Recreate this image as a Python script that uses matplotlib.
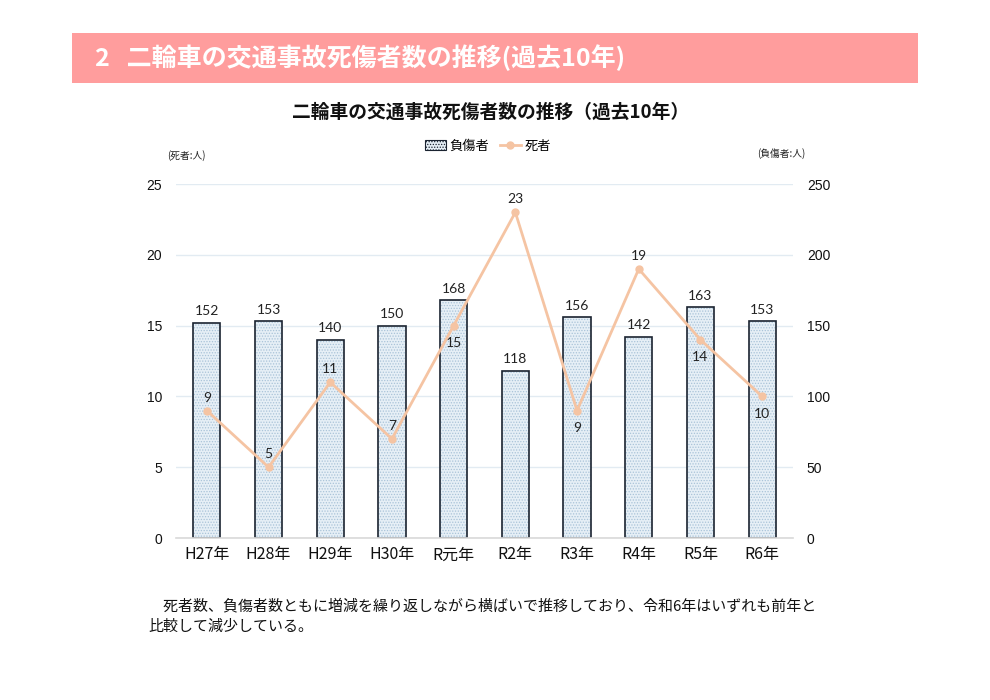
import matplotlib
matplotlib.use("Agg")
import matplotlib.pyplot as plt
from matplotlib.patches import Rectangle, Patch
from matplotlib.lines import Line2D

plt.rcParams['font.family'] = ['Noto Sans CJK JP', 'DejaVu Sans']

categories = ["H27年", "H28年", "H29年", "H30年", "R元年", "R2年", "R3年", "R4年", "R5年", "R6年"]
injured = [152, 153, 140, 150, 168, 118, 156, 142, 163, 153]
deaths = [9, 5, 11, 7, 15, 23, 9, 19, 14, 10]
death_label_pos = ["above", "above", "above", "above", "below", "above", "below", "above", "below", "below"]
left_ticks = [0, 5, 10, 15, 20, 25]
right_ticks = [0, 50, 100, 150, 200, 250]

fig = plt.figure(figsize=(9.9, 7.0), dpi=100)
fig.patch.set_facecolor("white")

# Header band
fig.add_artist(Rectangle((72/990, 1-83/700), (918-72)/990, 50/700, transform=fig.transFigure,
                         facecolor="#FF9D9D", edgecolor="none"))
fig.text(95/990, 1-58/700, "2   二輪車の交通事故死傷者数の推移(過去10年)", color="white",
         fontsize=18, fontweight="bold", va="center", ha="left")

# Chart title
fig.text(491/990, 1-112/700, "二輪車の交通事故死傷者数の推移（過去10年）", fontsize=13.5,
         fontweight="bold", ha="center", va="center", color="#111111")

ax = fig.add_axes([176/990, 1-538/700, (793-176)/990, (538-184)/700])
ax2 = ax.twinx()

x = list(range(len(categories)))
bar_fill = "#E6EFF6"
hatch_col = "#A9C3D8"
edge_col = "#1A2330"

plt.rcParams['hatch.linewidth'] = 0.6
ax2.bar(x, injured, width=0.44, facecolor=bar_fill, edgecolor=hatch_col, hatch="......", linewidth=0, zorder=2)
ax2.bar(x, injured, width=0.44, facecolor="none", edgecolor=edge_col, linewidth=1.2, zorder=3)
for xi, v in zip(x, injured):
    ax2.annotate(str(v), (xi, v), xytext=(0, 4), textcoords="offset points", ha="center", va="bottom",
                 fontsize=10, color="#222222", fontfamily=["Lato", "DejaVu Sans"])

line_col = "#F5C4A3"
ax.plot(x, deaths, color=line_col, linewidth=2.0, marker="o", markersize=5, zorder=5)
for xi, v, p in zip(x, deaths, death_label_pos):
    if p == "above":
        ax.annotate(str(v), (xi, v), xytext=(0, 5), textcoords="offset points", ha="center", va="bottom",
                    fontsize=10, color="#222222", fontfamily=["Lato", "DejaVu Sans"])
    else:
        ax.annotate(str(v), (xi, v), xytext=(0, -8), textcoords="offset points", ha="center", va="top",
                    fontsize=10, color="#222222", fontfamily=["Lato", "DejaVu Sans"])

ax.set_zorder(ax2.get_zorder() + 1)
ax.patch.set_visible(False)

ax.set_xlim(-0.5, len(categories) - 0.5)
ax.set_ylim(0, 25)
ax2.set_ylim(0, 250)
ax.set_yticks(left_ticks)
ax2.set_yticks(right_ticks)
ax.set_xticks(x)
ax.set_xticklabels(categories, fontsize=11.5, color="#111111")
ax.tick_params(axis="x", length=0, pad=6)
ax.tick_params(axis="y", length=0, pad=10, labelsize=10, labelcolor="#111111")
ax2.tick_params(axis="y", length=0, pad=10, labelsize=10, labelcolor="#111111")
for lab in ax.get_yticklabels() + ax2.get_yticklabels():
    lab.set_fontfamily(["Liberation Sans", "DejaVu Sans"])

for a in (ax, ax2):
    for s in a.spines.values():
        s.set_visible(False)
ax.spines["bottom"].set_visible(True)
ax.spines["bottom"].set_color("#D9D9D9")
ax.spines["bottom"].set_linewidth(1.2)

ax2.set_axisbelow(True)
ax2.yaxis.grid(True, color="#E2EBF2", linewidth=1.0, zorder=0)

# Units
fig.text(186/990, 1-156/700, "(死者:人)", fontsize=7, ha="center", va="center", color="#222222")
fig.text(781/990, 1-154/700, "(負傷者:人)", fontsize=7, ha="center", va="center", color="#222222")

# Legend
handles = [Patch(facecolor=bar_fill, edgecolor=edge_col, hatch="......", linewidth=0.8),
           Line2D([0], [0], color=line_col, linewidth=2.0, marker="o", markersize=5)]
fig.legend(handles, ["負傷者", "死者"], loc="center", bbox_to_anchor=(488/990, 1-146/700),
           ncol=2, frameon=False, fontsize=9.5, handlelength=1.6, handletextpad=0.3, columnspacing=0.8)

# Bottom note
fig.text(148/990, 1-606/700, "　死者数、負傷者数ともに増減を繰り返しながら横ばいで推移しており、令和6年はいずれも前年と",
         fontsize=10.8, ha="left", va="center", color="#111111")
fig.text(148/990, 1-627/700, "比較して減少している。", fontsize=10.8, ha="left", va="center", color="#111111")

fig.savefig("out.png", dpi=100)
